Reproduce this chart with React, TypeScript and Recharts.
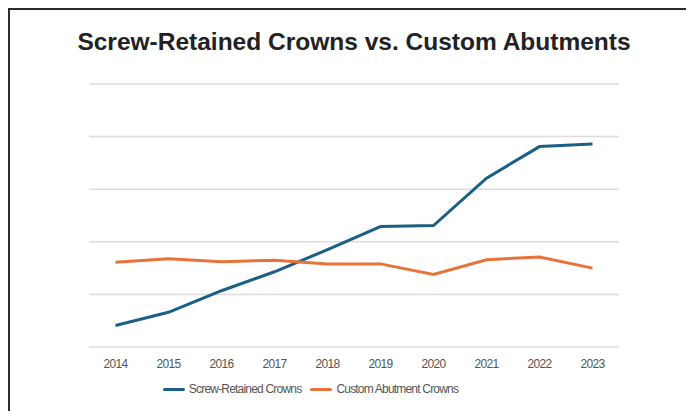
import React from "react";
import { LineChart, Line, XAxis, YAxis, CartesianGrid, Legend } from "recharts";

const years = ["2014", "2015", "2016", "2017", "2018", "2019", "2020", "2021", "2022", "2023"];
const screwRetained = [0.41, 0.66, 1.07, 1.43, 1.85, 2.29, 2.31, 3.21, 3.81, 3.86];
const customAbutment = [1.61, 1.68, 1.62, 1.65, 1.58, 1.58, 1.38, 1.66, 1.71, 1.5];
const yTicks = [0, 1, 2, 3, 4, 5];
const seriesOrder = ["Screw-Retained Crowns", "Custom Abutment Crowns"];

const BLUE = "#1b6084";
const ORANGE = "#e8733a";

const data = years.map((year, i) => ({
  year,
  screw: screwRetained[i],
  custom: customAbutment[i],
}));

function LegendContent({ payload }: any) {
  const items = [...(payload || [])].sort(
    (a: any, b: any) => seriesOrder.indexOf(a.value) - seriesOrder.indexOf(b.value)
  );
  return (
    <div style={{ display: "flex", justifyContent: "center", alignItems: "center", gap: 9 }}>
      {items.map((p: any) => (
        <div key={p.value} style={{ display: "flex", alignItems: "center" }}>
          <span
            style={{
              display: "inline-block",
              width: 22,
              height: 3,
              borderRadius: 1.5,
              background: p.color,
              marginRight: 4,
            }}
          />
          <span style={{ fontSize: 12, letterSpacing: -0.8, color: "#555" }}>{p.value}</span>
        </div>
      ))}
    </div>
  );
}

export default function App() {
  const font = '"Liberation Sans", Arial, sans-serif';
  return (
    <div
      style={{
        position: "relative",
        width: 694,
        height: 411,
        marginLeft: -8,
        marginTop: -8,
        background: "#fff",
        fontFamily: font,
      }}
    >
      <div
        style={{
          position: "absolute",
          top: 28,
          left: 7,
          width: 694,
          textAlign: "center",
          fontWeight: 700,
          fontSize: 24.5,
          color: "#222",
        }}
      >
        Screw-Retained Crowns vs. Custom Abutments
      </div>
      <div style={{ position: "absolute", left: 0, top: 0 }}>
        <LineChart
          width={694}
          height={411}
          data={data}
          margin={{ top: 84, right: 75, left: 89, bottom: 20 }}
        >
          <CartesianGrid vertical={false} stroke="#dcdcdc" strokeWidth={1.5} />
          <XAxis
            dataKey="year"
            axisLine={false}
            tickLine={false}
            padding={{ left: 26.5, right: 26.5 }}
            tick={{ fill: "#555", fontSize: 12, fontFamily: font, letterSpacing: -0.7 }}
            tickMargin={6}
            height={30}
          />
          <YAxis hide domain={[0, 5]} ticks={yTicks} />
          <Legend
            verticalAlign="bottom"
            content={<LegendContent />}
            wrapperStyle={{ bottom: 15, left: 0, width: 621 }}
          />
          <Line
            type="linear"
            dataKey="screw"
            name="Screw-Retained Crowns"
            stroke={BLUE}
            strokeWidth={3}
            dot={false}
            isAnimationActive={false}
          />
          <Line
            type="linear"
            dataKey="custom"
            name="Custom Abutment Crowns"
            stroke={ORANGE}
            strokeWidth={3}
            dot={false}
            isAnimationActive={false}
          />
        </LineChart>
      </div>
      {/* frame: top and left edge */}
      <div style={{ position: "absolute", zIndex: 5, left: 4, top: 8, width: 690, height: 2, background: "#2b2b2b" }} />
      <div style={{ position: "absolute", zIndex: 5, left: 8, top: 8, width: 2, height: 403, background: "#2b2b2b" }} />
    </div>
  );
}
